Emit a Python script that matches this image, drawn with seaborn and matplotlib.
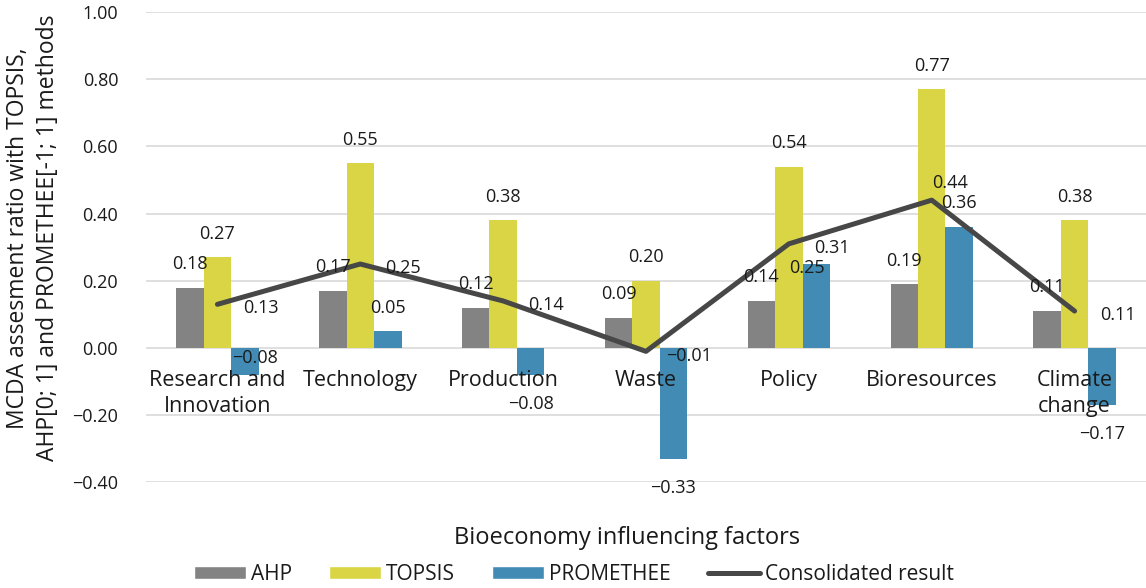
import pandas as pd
import matplotlib.pyplot as plt
import seaborn as sns
import numpy as np
from matplotlib.patches import Patch
from matplotlib.lines import Line2D
from matplotlib.ticker import FuncFormatter

# data
categories = ["Research and\nInnovation", "Technology", "Production", "Waste",
              "Policy", "Bioresources", "Climate\nchange"]
methods = ["AHP", "TOPSIS", "PROMETHEE"]
ahp = [0.18, 0.17, 0.12, 0.09, 0.14, 0.19, 0.11]
topsis = [0.27, 0.55, 0.38, 0.20, 0.54, 0.77, 0.38]
promethee = [-0.08, 0.05, -0.08, -0.33, 0.25, 0.36, -0.17]
consolidated = [0.13, 0.25, 0.14, -0.01, 0.31, 0.44, 0.11]
y_ticks = [-0.40, -0.20, 0.00, 0.20, 0.40, 0.60, 0.80, 1.00]

df = pd.DataFrame({
    "factor": categories * 3,
    "method": np.repeat(methods, len(categories)),
    "value": ahp + topsis + promethee,
})

colors = {"AHP": "#838383", "TOPSIS": "#d9d545", "PROMETHEE": "#428bb5"}
line_color = "#474747"
txt = "#1a1a1a"


def fmt(v):
    return f"{v:.2f}".replace("-", "\u2212")


# plotting
sns.set_style("white")
plt.rcParams["font.family"] = ["Open Sans", "DejaVu Sans"]

fig = plt.figure(figsize=(11.46, 5.88), dpi=100)
ax = fig.add_axes([146 / 1146, 1 - 482.4 / 588, 1000 / 1146, 470.4 / 588])

sns.barplot(df, x="factor", y="value", hue="method", palette=colors,
            width=0.577, saturation=1, linewidth=0, ax=ax, legend=False, zorder=2)
sns.lineplot(x=np.arange(len(categories)), y=consolidated, color=line_color,
             linewidth=3.6, ax=ax, zorder=4)

ax.set_ylim(y_ticks[0], y_ticks[-1])
ax.set_xlim(-0.5, len(categories) - 0.5)
ax.set_yticks(y_ticks)
ax.yaxis.set_major_formatter(FuncFormatter(lambda v, p: fmt(v)))
for y in y_ticks:
    ax.axhline(y, color="#d9d9d9", linewidth=1.2, zorder=0)

for s in ax.spines.values():
    s.set_visible(False)
ax.spines["bottom"].set_position(("data", 0))
ax.tick_params(axis="y", length=0, pad=20, labelsize=13, labelcolor=txt)
ax.tick_params(axis="x", length=0, pad=16, labelsize=15.5, labelcolor=txt)
for lbl in ax.get_xticklabels():
    lbl.set_linespacing(1.3)
ax.xaxis.set_zorder(3)
ax.set_xlabel("")
ax.set_ylabel("")

# bar value labels
for container in ax.containers:
    for patch in container:
        v = patch.get_height() if patch.get_y() >= 0 else patch.get_y()
        cx = patch.get_x() + patch.get_width() / 2
        dy = 17 if v >= 0 else -21
        ax.annotate(fmt(v), (cx, v), xytext=(0, dy),
                    textcoords="offset points", ha="center", va="center",
                    fontsize=13, color=txt, zorder=5)

# labels that Excel moved to avoid overlaps
n = len(categories)
ax.texts[2 * n].xyann = (7, 12)        # Research and Innovation, PROMETHEE
ax.texts[2 * n + 4].xyann = (-7, -3)   # Policy, PROMETHEE

# consolidated labels
line_offsets = [(31, -3)] * n
line_offsets[5] = (13, 12)
for i, v in enumerate(consolidated):
    ax.annotate(fmt(v), (i, v), xytext=line_offsets[i],
                textcoords="offset points", ha="center", va="center",
                fontsize=13, color=txt, zorder=5)

fig.text(33 / 1146, 1 - 238 / 588,
         "MCDA assesment ratio with TOPSIS,\nAHP[0; 1] and PROMETHEE[-1; 1] methods",
         rotation=90, ha="center", va="center", fontsize=16.5, color=txt,
         linespacing=1.35)
fig.text(627 / 1146, 1 - 538 / 588, "Bioeconomy influencing factors",
         ha="center", va="center", fontsize=17, color=txt)

handles = [Patch(facecolor=colors[m], label=m) for m in methods]
handles.append(Line2D([0], [0], color=line_color, linewidth=3.6, label="Consolidated result"))
fig.legend(handles=handles, loc="center", bbox_to_anchor=(574 / 1146, 1 - 574 / 588),
           ncol=4, frameon=False, fontsize=15, handlelength=2.5, handleheight=0.6,
           handletextpad=0.24, columnspacing=1.78, labelcolor=txt)

fig.savefig("out.png", dpi=100)
